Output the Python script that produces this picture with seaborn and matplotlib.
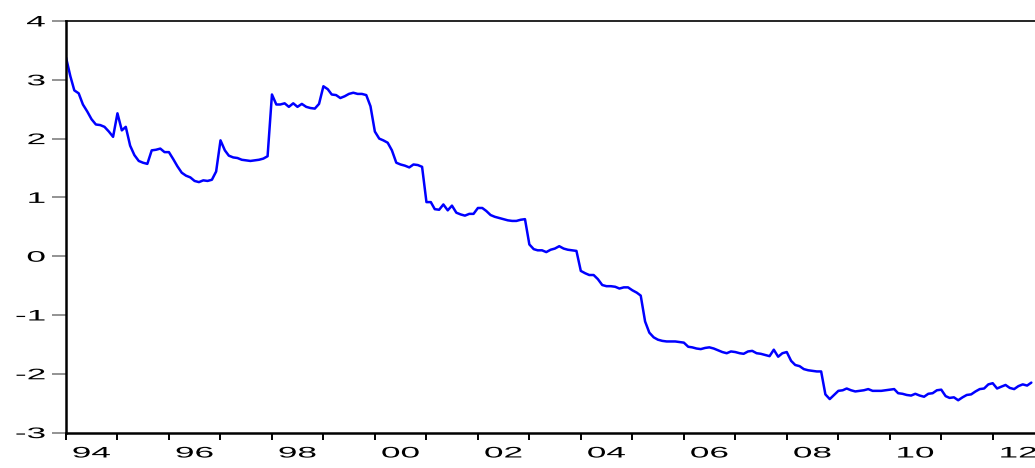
import numpy as np
import pandas as pd
import matplotlib
matplotlib.use("Agg")
import matplotlib.pyplot as plt
import matplotlib.dates as mdates
from matplotlib.patheffects import AbstractPathEffect
from matplotlib.transforms import Affine2D
import seaborn as sns

# Monthly series, Jan 1994 .. Oct 2012 (one row per year)
values = [
    3.38, 3.06, 2.82, 2.77, 2.58, 2.46, 2.33, 2.24, 2.23, 2.20, 2.12, 2.03,          # 1994
    2.43, 2.14, 2.20, 1.88, 1.72, 1.62, 1.59, 1.57, 1.80, 1.81, 1.83, 1.77,          # 1995
    1.77, 1.65, 1.53, 1.42, 1.37, 1.34, 1.28, 1.26, 1.29, 1.28, 1.30, 1.44,          # 1996
    1.97, 1.80, 1.71, 1.68, 1.67, 1.64, 1.63, 1.62, 1.63, 1.64, 1.66, 1.70,          # 1997
    2.75, 2.58, 2.58, 2.60, 2.54, 2.60, 2.54, 2.59, 2.54, 2.52, 2.51, 2.59,          # 1998
    2.89, 2.84, 2.75, 2.74, 2.69, 2.72, 2.76, 2.78, 2.76, 2.76, 2.74, 2.55,          # 1999
    2.12, 2.00, 1.97, 1.93, 1.80, 1.59, 1.56, 1.54, 1.51, 1.56, 1.55, 1.52,          # 2000
    0.92, 0.92, 0.80, 0.79, 0.88, 0.78, 0.86, 0.74, 0.71, 0.69, 0.72, 0.72,          # 2001
    0.82, 0.82, 0.77, 0.70, 0.67, 0.65, 0.63, 0.61, 0.60, 0.60, 0.62, 0.63,          # 2002
    0.20, 0.12, 0.10, 0.10, 0.07, 0.11, 0.13, 0.17, 0.13, 0.11, 0.10, 0.09,          # 2003
    -0.25, -0.29, -0.32, -0.32, -0.39, -0.49, -0.51, -0.51, -0.52, -0.55, -0.53, -0.53,  # 2004
    -0.58, -0.62, -0.67, -1.11, -1.30, -1.38, -1.42, -1.44, -1.45, -1.45, -1.45, -1.46,  # 2005
    -1.47, -1.54, -1.55, -1.57, -1.58, -1.56, -1.55, -1.57, -1.60, -1.63, -1.65, -1.62,  # 2006
    -1.63, -1.65, -1.66, -1.62, -1.61, -1.65, -1.66, -1.68, -1.70, -1.59, -1.71, -1.65,  # 2007
    -1.63, -1.78, -1.85, -1.87, -1.92, -1.94, -1.95, -1.96, -1.96, -2.35, -2.43, -2.36,  # 2008
    -2.29, -2.28, -2.25, -2.28, -2.30, -2.29, -2.28, -2.26, -2.29, -2.29, -2.29, -2.28,  # 2009
    -2.27, -2.26, -2.33, -2.34, -2.36, -2.37, -2.34, -2.37, -2.39, -2.34, -2.33, -2.28,  # 2010
    -2.27, -2.38, -2.41, -2.40, -2.45, -2.40, -2.36, -2.35, -2.30, -2.26, -2.25, -2.18,  # 2011
    -2.16, -2.25, -2.22, -2.19, -2.24, -2.26, -2.21, -2.18, -2.20, -2.15,                # 2012
]
start_month = "1994-01-01"
y_ticks = [-3, -2, -1, 0, 1, 2, 3, 4]

df = pd.DataFrame({
    "date": pd.date_range(start_month, periods=len(values), freq="MS"),
    "value": values,
})


class WideText(AbstractPathEffect):
    """Stretch glyphs horizontally (the source chart has very wide digits)."""

    def __init__(self, sx=2.3, anchor="center"):
        super().__init__()
        self.sx = sx
        self.anchor = anchor

    def draw_path(self, renderer, gc, tpath, affine, rgbFace=None):
        ext = tpath.get_extents(affine)
        x0 = {"center": (ext.x0 + ext.x1) / 2, "right": ext.x1, "left": ext.x0}[self.anchor]
        stretch = Affine2D().translate(-x0, 0).scale(self.sx, 1).translate(x0, 0)
        renderer.draw_path(gc, tpath, affine + stretch, rgbFace)


sns.set_style("white")
plt.rcParams["font.family"] = ["Liberation Sans", "DejaVu Sans"]
plt.rcParams["axes.unicode_minus"] = False

W, H = 1035, 468
fig = plt.figure(figsize=(W / 100, H / 100), dpi=100)
ax = fig.add_axes([66 / W, 1 - 432.6 / H, 1 - 66 / W, (432.6 - 21) / H])

sns.lineplot(data=df, x="date", y="value", color="#0000ff", linewidth=1.8, ax=ax)

ax.set_xlim(pd.Timestamp("1994-01-01"), pd.Timestamp("2012-10-27"))
ax.set_ylim(-3, 4)
ax.set_xlabel("")
ax.set_ylabel("")

# yearly tick marks, labels every second year centred mid-year
ax.xaxis.set_minor_locator(mdates.YearLocator(1))
ax.xaxis.set_major_locator(mdates.YearLocator(2, month=7, day=1))
ax.xaxis.set_major_formatter(mdates.DateFormatter("%y"))
ax.tick_params(axis="x", which="major", bottom=True, length=0, pad=10, labelsize=11,
               labelcolor="black")
ax.tick_params(axis="x", which="minor", bottom=True, length=5, width=1.4, color="black",
               direction="out")

ax.set_yticks(y_ticks)
ax.tick_params(axis="y", left=True, length=10, width=1.2, color="#808080", pad=5,
               labelsize=11, labelcolor="black", direction="out")

for side in ["left", "bottom"]:
    ax.spines[side].set_linewidth(1.8)
    ax.spines[side].set_color("black")
ax.spines["top"].set_linewidth(1.2)
ax.spines["top"].set_color("black")
ax.spines["right"].set_visible(False)

fig.canvas.draw()
for lbl in ax.get_xticklabels():
    lbl.set_path_effects([WideText(2.3, "center")])
for lbl in ax.get_yticklabels():
    lbl.set_path_effects([WideText(2.3, "right")])

fig.savefig("out.png", dpi=100)
